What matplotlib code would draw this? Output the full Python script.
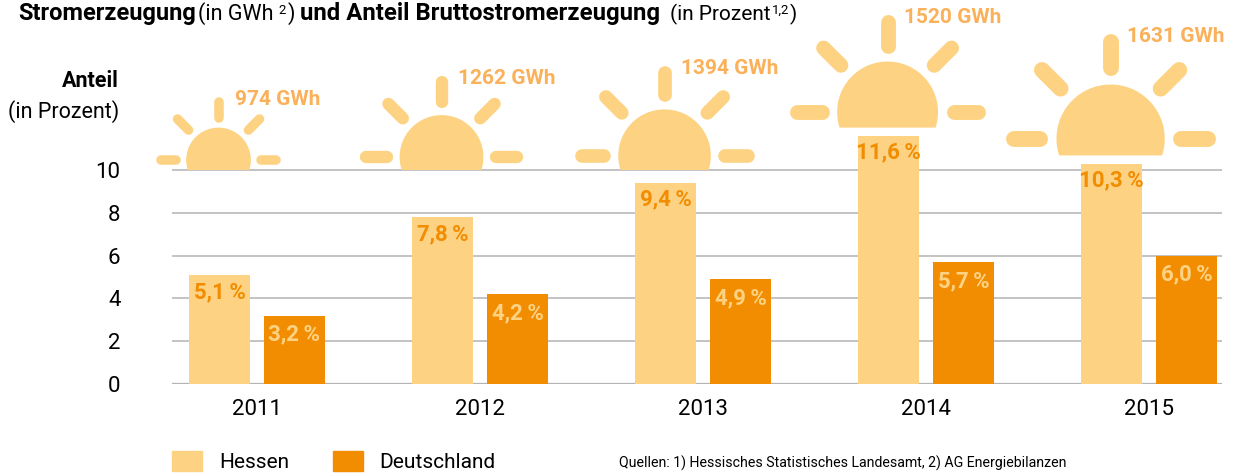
import numpy as np
import matplotlib
matplotlib.use("Agg")
import matplotlib.pyplot as plt
from matplotlib.patches import Patch, Polygon

years = ["2011", "2012", "2013", "2014", "2015"]
hessen = [5.1, 7.8, 9.4, 11.6, 10.3]
deutschland = [3.2, 4.2, 4.9, 5.7, 6.0]
gwh = [974, 1262, 1394, 1520, 1631]
yticks = [0, 2, 4, 6, 8, 10]

LIGHT = "#fdd383"
DARK = "#f28c00"
SUNTXT = "#fbb05a"
GRID = "#b3b3b3"
W, H = 1235, 473
DPI = 100

plt.rcParams["font.family"] = ["Roboto", "DejaVu Sans"]

def px(v):
    return v * 72.0 / DPI

def pct(v):
    return f"{v:.1f}\u2009%".replace(".", ",")

fig = plt.figure(figsize=(W / DPI, H / DPI), dpi=DPI)
ax = fig.add_axes([172 / W, (H - 384) / H, 1050 / W, 256.8 / H])
over = fig.add_axes([0, 0, 1, 1])
over.set_xlim(0, W)
over.set_ylim(H, 0)
over.axis("off")
over.patch.set_alpha(0)

x = np.arange(len(years))
ax.set_xlim(-0.381, 4.327)
ax.set_ylim(0, 12)
offset = 0.168
bw = 0.2735
ax.bar(x - offset, hessen, bw, color=LIGHT, zorder=3)
ax.bar(x + offset, deutschland, bw, color=DARK, zorder=3)
ax.set_yticks(yticks)
ax.set_xticks(x, years)
ax.yaxis.grid(True, color=GRID, lw=1.1, zorder=0)
ax.set_axisbelow(True)
for s in ax.spines.values():
    s.set_visible(False)
ax.tick_params(axis="y", length=0, pad=37, labelsize=16)
ax.tick_params(axis="x", length=0, pad=11, labelsize=16)
ax.axhline(0, color=GRID, lw=1.6, zorder=1)

for i in x:
    ax.annotate(pct(hessen[i]), (i - offset, hessen[i]), xytext=(0, px(-17)),
                textcoords="offset points", ha="center", va="center", color=DARK,
                fontsize=16, fontweight="bold", zorder=5)
    ax.annotate(pct(deutschland[i]), (i + offset, deutschland[i]), xytext=(0, px(-19)),
                textcoords="offset points", ha="center", va="center",
                color=LIGHT, fontsize=16, fontweight="bold", zorder=5)

# suns: size follows GWh, sitting above the Hessen bar
for i in x:
    r = gwh[i] * 0.0332
    sx, sy = ax.transData.transform((i - offset, max(hessen[i] + 0.38, 10)))
    sx -= 1
    base = H - sy
    cy = base - 0.31 * r
    a0 = np.arcsin(0.31)
    t = np.linspace(np.pi + a0, -a0, 80)
    over.add_patch(Polygon(np.c_[sx + r * np.cos(t), cy - r * np.sin(t)], closed=True, fc=LIGHT, ec="none"))
    lw = 0.295 * r
    for ang in [0, 45, 90, 135, 180]:
        a = np.deg2rad(ang)
        r1, r2 = 1.16 * r + lw / 2, 1.94 * r - lw / 2
        over.plot([sx + r1 * np.cos(a), sx + r2 * np.cos(a)], [cy - r1 * np.sin(a), cy - r2 * np.sin(a)],
                  color=LIGHT, lw=px(lw), solid_capstyle="round")
    over.text(sx + 16.5, cy - 1.94 * r + 0.06 * r, f"{gwh[i]} GWh", color=SUNTXT, fontsize=15,
              fontweight="bold", ha="left", va="center")

# title in pieces
def title_part(xp, s, bold=False, size=17, yp=20):
    over.text(xp, yp, s, fontsize=size, fontweight="bold" if bold else "normal",
              ha="left", va="baseline", color="black")

title_part(18, "Stromerzeugung", True)
title_part(198, "(in GWh", size=15.5)
title_part(278, "2", size=9.5, yp=14)
title_part(288, ")", size=15.5)
title_part(300, "und Anteil Bruttostromerzeugung", True, size=17.2)
title_part(670, "(in Prozent", size=15)
title_part(772, "1,2", size=9.5, yp=14)
title_part(790, ")", size=15)

over.text(119, 81, "Anteil", fontsize=15.5, fontweight="bold", ha="right", va="center")
over.text(119, 112, "(in Prozent)", fontsize=15.5, ha="right", va="center")
over.text(619, 463, "Quellen: 1) Hessisches Statistisches Landesamt, 2) AG Energiebilanzen",
          fontsize=10.2, ha="left", va="center")

handles = [Patch(color=LIGHT, label="Hessen"), Patch(color=DARK, label="Deutschland")]
fig.legend(handles=handles, ncol=2, loc="lower left", bbox_to_anchor=(172 / W, (H - 472) / H),
           frameon=False, fontsize=15, borderpad=0, borderaxespad=0, handlelength=1.44, handleheight=1.056,
           handletextpad=0.81, columnspacing=2.1)

fig.savefig("out.png", dpi=DPI)
